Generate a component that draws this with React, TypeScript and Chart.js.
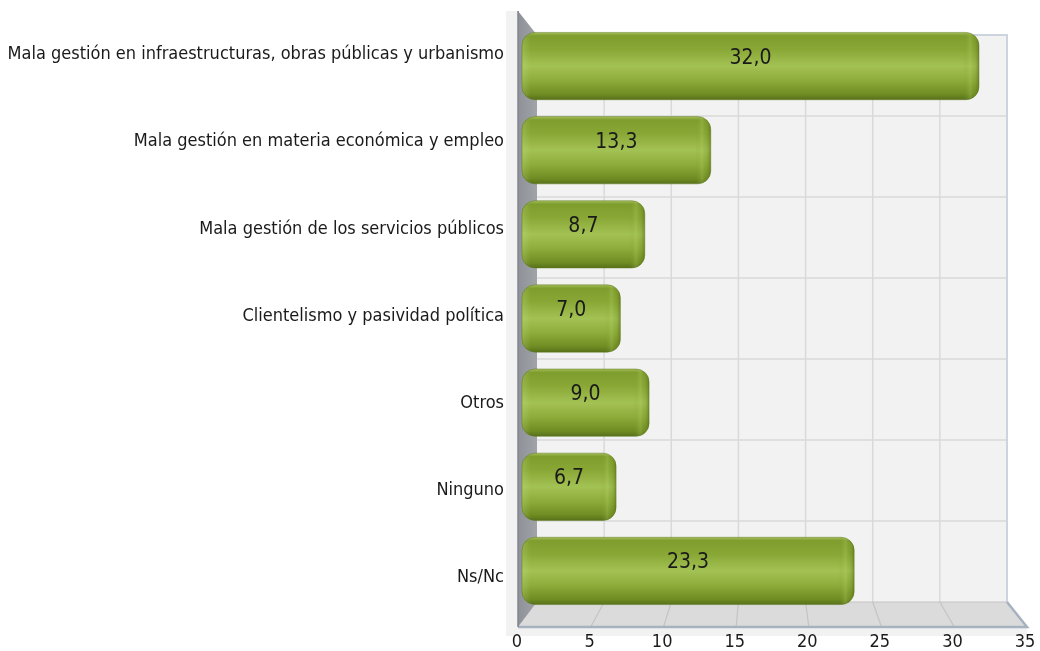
import React, { useEffect, useRef } from "react";
import { Chart, registerables } from "chart.js";

Chart.register(...registerables);

const categories: string[] = [
  "Mala gestión en infraestructuras, obras públicas y urbanismo",
  "Mala gestión en materia económica y empleo",
  "Mala gestión de los servicios públicos",
  "Clientelismo y pasividad política",
  "Otros",
  "Ninguno",
  "Ns/Nc",
];
const values: number[] = [32.0, 13.3, 8.7, 7.0, 9.0, 6.7, 23.3];
const axisMin = 0;
const axisMax = 35;
const axisStep = 5;

const FONT = "'DejaVu Sans Condensed', 'DejaVu Sans', sans-serif";
const TEXT = "#1a1a1a";

const fmt = (v: number) => v.toFixed(1).replace(".", ",");

const frame3d = {
  id: "frame3d",
  beforeDatasetsDraw(chart: any) {
    const { ctx, chartArea: ca } = chart;
    const fl = ca.left - 2;
    const fr = ca.right + 5;
    const ft = ca.top - 13;
    const fb = ca.bottom + 14;
    const bl = fl + 19;
    const br = fr - 20;
    const bt = ft + 24;
    const bb = fb - 25;
    const nCat = categories.length;
    const ticksV: number[] = [];
    for (let v = axisMin + axisStep; v < axisMax; v += axisStep) ticksV.push(v);
    const frac = (v: number) => (v - axisMin) / (axisMax - axisMin);

    ctx.save();
    // light strips
    ctx.fillStyle = "#f2f2f2";
    ctx.fillRect(fl - 12, ft, 12, fb - ft);
    ctx.fillRect(fl - 12, fb, fr - fl + 12, 9);

    // back wall
    ctx.fillStyle = "#f2f2f2";
    ctx.fillRect(bl, bt, br - bl, bb - bt);
    ctx.strokeStyle = "#d9d9d9";
    ctx.lineWidth = 1.5;
    ticksV.forEach((v) => {
      const x = bl + frac(v) * (br - bl);
      ctx.beginPath();
      ctx.moveTo(x, bt);
      ctx.lineTo(x, bb);
      ctx.stroke();
    });
    for (let k = 1; k < nCat; k++) {
      const y = bt + (k * (bb - bt)) / nCat;
      ctx.beginPath();
      ctx.moveTo(bl, y);
      ctx.lineTo(br, y);
      ctx.stroke();
    }
    ctx.strokeStyle = "#cdd4de";
    ctx.lineWidth = 2;
    ctx.beginPath();
    ctx.moveTo(bl, bt);
    ctx.lineTo(br, bt);
    ctx.lineTo(br, bb);
    ctx.stroke();

    // floor
    ctx.beginPath();
    ctx.moveTo(fl, fb);
    ctx.lineTo(bl, bb);
    ctx.lineTo(br, bb);
    ctx.lineTo(fr, fb);
    ctx.closePath();
    ctx.fillStyle = "#dbdbdb";
    ctx.fill();
    ctx.strokeStyle = "#c4c4c4";
    ctx.lineWidth = 1.2;
    ticksV.forEach((v) => {
      ctx.beginPath();
      ctx.moveTo(fl + frac(v) * (fr - fl), fb);
      ctx.lineTo(bl + frac(v) * (br - bl), bb);
      ctx.stroke();
    });
    ctx.beginPath();
    ctx.moveTo(bl, bb);
    ctx.lineTo(br, bb);
    ctx.stroke();
    ctx.strokeStyle = "#a7b2c0";
    ctx.lineWidth = 2.5;
    ctx.beginPath();
    ctx.moveTo(fl, fb);
    ctx.lineTo(fr, fb);
    ctx.lineTo(br, bb);
    ctx.stroke();

    // left wall
    ctx.beginPath();
    ctx.moveTo(fl, ft);
    ctx.lineTo(bl, bt);
    ctx.lineTo(bl, bb);
    ctx.lineTo(fl, fb);
    ctx.closePath();
    const wg = ctx.createLinearGradient(fl, 0, bl, 0);
    wg.addColorStop(0, "#8e9197");
    wg.addColorStop(1, "#a0a3a8");
    ctx.fillStyle = wg;
    ctx.fill();
    ctx.strokeStyle = "#80858d";
    ctx.lineWidth = 1.5;
    ctx.beginPath();
    ctx.moveTo(fl, ft);
    ctx.lineTo(fl, fb);
    ctx.stroke();

    // category labels on the front plane
    ctx.fillStyle = TEXT;
    ctx.font = `18px ${FONT}`;
    ctx.textAlign = "right";
    ctx.textBaseline = "middle";
    const span = fb - 6 - ft;
    categories.forEach((c, k) => {
      ctx.fillText(c, fl - 14, ft + ((k + 0.5) * span) / nCat);
    });

    // value axis tick labels along the front edge of the floor
    ctx.textAlign = "center";
    for (let v = axisMin; v <= axisMax; v += axisStep) {
      ctx.fillText(String(v), fl - 1 + frac(v) * (fr - fl - 1), ca.bottom + 29);
    }
    ctx.restore();
  },
  afterDatasetsDraw(chart: any) {
    const { ctx } = chart;
    const meta = chart.getDatasetMeta(0);
    meta.data.forEach((el: any, i: number) => {
      const x0 = Math.min(el.base, el.x) + 2;
      const x1 = Math.max(el.base, el.x);
      const h = el.height;
      const top = el.y - h / 2;
      const r = Math.min(13, (x1 - x0) / 2);
      ctx.save();
      ctx.beginPath();
      ctx.roundRect(x0, top, x1 - x0, h, r);
      const g = ctx.createLinearGradient(0, top, 0, top + h);
      g.addColorStop(0, "#a3bf5c");
      g.addColorStop(0.05, "#7f9d2d");
      g.addColorStop(0.25, "#89a735");
      g.addColorStop(0.5, "#a3c254");
      g.addColorStop(0.72, "#8dab39");
      g.addColorStop(0.92, "#6f8c23");
      g.addColorStop(1, "#57711a");
      ctx.fillStyle = g;
      ctx.fill();
      ctx.save();
      ctx.clip();
      const cw = 16;
      const cg = ctx.createLinearGradient(x1 - cw, 0, x1, 0);
      cg.addColorStop(0, "rgba(110,140,35,0)");
      cg.addColorStop(0.45, "rgba(175,205,95,0.3)");
      cg.addColorStop(0.75, "rgba(110,140,35,0.2)");
      cg.addColorStop(1, "rgba(70,92,15,0.5)");
      ctx.fillStyle = cg;
      ctx.fillRect(x1 - cw, top, cw, h);
      const lg = ctx.createLinearGradient(x0, 0, x0 + 9, 0);
      lg.addColorStop(0, "rgba(200,225,140,0.25)");
      lg.addColorStop(1, "rgba(200,225,140,0)");
      ctx.fillStyle = lg;
      ctx.fillRect(x0, top, 9, h);
      ctx.restore();
      ctx.strokeStyle = "rgba(90,115,25,0.45)";
      ctx.lineWidth = 1;
      ctx.stroke();

      ctx.fillStyle = TEXT;
      ctx.font = `21px ${FONT}`;
      ctx.textAlign = "center";
      ctx.textBaseline = "middle";
      ctx.fillText(fmt(values[i]), (x0 + x1) / 2, el.y - 8);
      ctx.restore();
    });
  },
};

export default function App() {
  const ref = useRef<HTMLCanvasElement | null>(null);
  useEffect(() => {
    if (!ref.current) return;
    const chart = new Chart(ref.current, {
      type: "bar",
      data: {
        labels: categories,
        datasets: [
          {
            data: values,
            backgroundColor: "rgba(0,0,0,0)",
            borderWidth: 0,
            barPercentage: 0.8,
            categoryPercentage: 1,
          },
        ],
      },
      options: {
        indexAxis: "y",
        animation: false,
        responsive: true,
        maintainAspectRatio: false,
        devicePixelRatio: 1,
        layout: { padding: { left: 520, right: 18, top: 24, bottom: 38 } },
        plugins: {
          legend: { display: false },
          tooltip: { enabled: false },
          title: { display: false },
        },
        scales: {
          x: { display: false, min: axisMin, max: axisMax },
          y: { display: false },
        },
      },
      plugins: [frame3d],
    });
    return () => chart.destroy();
  }, []);
  return (
    <div style={{ position: "fixed", left: 0, top: 0, width: 1040, height: 651, background: "#ffffff" }}>
      <canvas ref={ref} />
    </div>
  );
}
